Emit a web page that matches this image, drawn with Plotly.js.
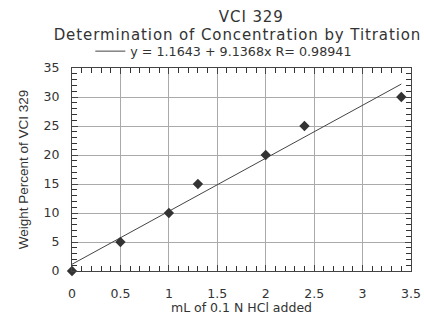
<!DOCTYPE html>
<html><head><meta charset="utf-8">
<script src="https://cdn.plot.ly/plotly-3.0.1.min.js"></script>
<style>html,body{margin:0;padding:0;background:#fff}#c{width:424px;height:315px}
#c .annotation-text{letter-spacing:0.9px}
</style>
</head><body><div id="c"></div>
<script>
var mlHCl = [0, 0.5, 1, 1.3, 2, 2.4, 3.4];
var weightPct = [0, 5, 10, 15, 20, 25, 30];
var fitIntercept = 1.1643;
var fitSlope = 9.1368;
var fitR = 0.98941;
var fitX = [0, 3.4];
var fitY = fitX.map(function(x){ return fitIntercept + fitSlope * x; });
var xTicks = [0, 0.5, 1, 1.5, 2, 2.5, 3, 3.5];
var yTicks = [0, 5, 10, 15, 20, 25, 30, 35];
var xMinorStep = 0.1;
var yMinorStep = 1;

var font = 'DejaVu Sans, Verdana, sans-serif';
var xRange = [xTicks[0], xTicks[xTicks.length - 1]];
var yRange = [yTicks[0], yTicks[yTicks.length - 1]];
var data = [
  {x: fitX, y: fitY, mode: 'lines', name: 'y = ' + fitIntercept + ' + ' + fitSlope + 'x R= ' + fitR,
   line: {color: '#444', width: 1}, showlegend: true, hoverinfo: 'skip'},
  {x: mlHCl, y: weightPct, mode: 'markers', showlegend: false, cliponaxis: false,
   marker: {symbol: 'diamond', size: 8, color: '#333'}}
];
var axisCommon = {
  showline: true, linecolor: '#444', linewidth: 1, mirror: 'allticks',
  ticks: 'inside', ticklen: 6, tickcolor: '#444', tickwidth: 1,
  showgrid: true, gridcolor: '#aaa', gridwidth: 1, zeroline: false,
  tickfont: {family: font, size: 12.5, color: '#333'}
};
var layout = {
  width: 424, height: 315,
  margin: {l: 72, r: 13, t: 68, b: 44},
  paper_bgcolor: '#fff', plot_bgcolor: '#fff',
  xaxis: Object.assign({}, axisCommon, {
    range: xRange, tickmode: 'linear', tick0: xTicks[0], dtick: xTicks[1] - xTicks[0], ticklabelstandoff: 11,
    minor: {ticks: 'inside', ticklen: 5, tickcolor: '#333', tickwidth: 1, tick0: xTicks[0], dtick: xMinorStep, showgrid: false},
    title: {text: 'mL of 0.1 N HCl added', font: {family: font, size: 12.5, color: '#333'}, standoff: 2}
  }),
  yaxis: Object.assign({}, axisCommon, {
    range: yRange, tickmode: 'linear', tick0: yTicks[0], dtick: yTicks[1] - yTicks[0], ticklabelstandoff: 9,
    minor: {ticks: 'inside', ticklen: 5, tickcolor: '#333', tickwidth: 1, tick0: yTicks[0], dtick: yMinorStep, showgrid: false},
    title: {text: 'Weight Percent of VCI 329', font: {family: 'Liberation Sans Narrow, Arial Narrow, sans-serif', size: 13.5, color: '#333'}, standoff: 11}
  }),
  showlegend: true,
  legend: {orientation: 'h', x: 0.054, xanchor: 'left', y: 1.008, yanchor: 'bottom',
    font: {family: font, size: 12.7, color: '#333'}, itemwidth: 30, bgcolor: 'rgba(0,0,0,0)',
    traceorder: 'normal'},
  annotations: [
    {text: 'VCI 329', xref: 'paper', yref: 'paper', x: 0.53, y: 1.0, yshift: 51, showarrow: false,
     xanchor: 'center', yanchor: 'middle', font: {family: font, size: 15, color: '#333'}},
    {text: 'Determination of Concentration by Titration', xref: 'paper', yref: 'paper', x: 0.488, y: 1.0, yshift: 33,
     showarrow: false, xanchor: 'center', yanchor: 'middle', font: {family: font, size: 15, color: '#333'}}
  ]
};
Plotly.newPlot('c', data, layout, {staticPlot: true});
</script></body></html>
